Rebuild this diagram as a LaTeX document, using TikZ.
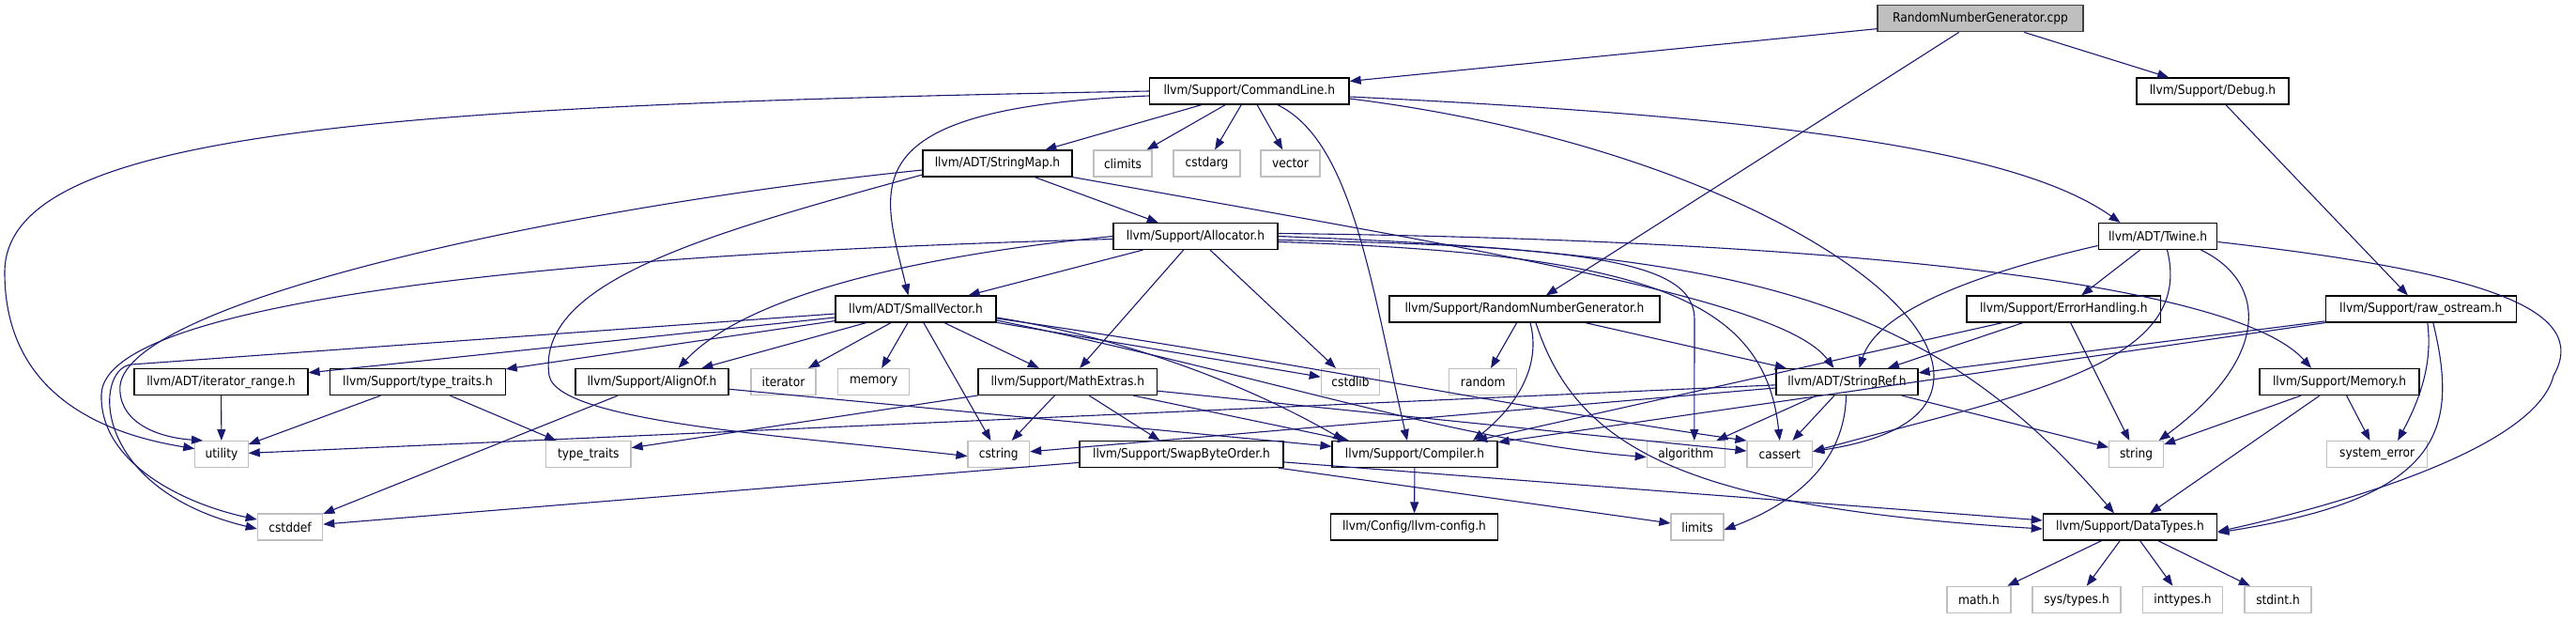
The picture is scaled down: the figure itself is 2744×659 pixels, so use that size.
\documentclass[tikz,border=0pt]{standalone}
\usepackage{fontspec}
\setmainfont{DejaVu Sans Condensed}
\usetikzlibrary{arrows.meta}

\definecolor{edgeblue}{HTML}{191970}
\definecolor{sysgray}{HTML}{BFBFBF}
\definecolor{rootline}{HTML}{404040}

\begin{document}
\begin{tikzpicture}[x=1pt, y=-1pt,
  box/.style={rectangle, minimum height=28, inner xsep=2, inner ysep=0, line width=1.2pt,
    font=\fontsize{13.6}{15}\selectfont},
  inc/.style={box, draw=black, fill=white},
  sys/.style={box, draw=sysgray, fill=white},
  root/.style={box, draw=rootline, fill=sysgray},
  dep/.style={edgeblue, line width=1.1pt, -{Triangle[length=12pt,width=9pt]}}]

\useasboundingbox (0,0) rectangle (2744,659);

% Row 0 and 1
\node[root, minimum width=219] (cpp) at (2109.5,19.8) {RandomNumberGenerator.cpp};
\node[inc, minimum width=212.5] (CommandLine) at (1330.8,97) {llvm/Support/CommandLine.h};
\node[inc, minimum width=162] (Debug) at (2357,97) {llvm/Support/Debug.h};

% Row 2 and 3
\node[inc, minimum width=159] (StringMap) at (1062.5,174) {llvm/ADT/StringMap.h};
\node[sys, minimum width=62] (climits) at (1196,174) {climits};
\node[sys, minimum width=71] (cstdarg) at (1285.5,174) {cstdarg};
\node[sys, minimum width=63] (vector) at (1374.5,174) {vector};
\node[inc, minimum width=175] (Allocator) at (1273.5,251.5) {llvm/Support/Allocator.h};
\node[inc, minimum width=126.5] (Twine) at (2298.5,251.5) {llvm/ADT/Twine.h};

% Row 4
\node[inc, minimum width=171] (SmallVector) at (975.5,329) {llvm/ADT/SmallVector.h};
\node[inc, minimum width=288] (RNGh) at (1624,329) {llvm/Support/RandomNumberGenerator.h};
\node[inc, minimum width=206.5] (ErrorHandling) at (2198.3,329) {llvm/Support/ErrorHandling.h};
\node[inc, minimum width=203] (rawostream) at (2578.8,329) {llvm/Support/raw\_ostream.h};

% Row 5
\node[inc, minimum width=185] (iterrange) at (235.5,406.5) {llvm/ADT/iterator\_range.h};
\node[inc, minimum width=186.3] (typetraitsh) at (445,406.5) {llvm/Support/type\_traits.h};
\node[inc, minimum width=163] (AlignOf) at (694.5,406.5) {llvm/Support/AlignOf.h};
\node[sys, minimum width=69] (iterator) at (834.5,406.5) {iterator};
\node[sys, minimum width=76] (memory) at (930.7,406.5) {memory};
\node[inc, minimum width=190.5] (MathExtras) at (1137.3,406.5) {llvm/Support/MathExtras.h};
\node[sys, minimum width=62.4] (cstdlib) at (1438.5,406.5) {cstdlib};
\node[sys, minimum width=72] (random) at (1579.7,406.5) {random};
\node[inc, minimum width=151] (StringRef) at (1967.5,406.5) {llvm/ADT/StringRef.h};
\node[inc, minimum width=170] (Memory) at (2492,406.5) {llvm/Support/Memory.h};

% Row 6
\node[sys, minimum width=56.3] (utility) at (236,483.6) {utility};
\node[sys, minimum width=90.5] (typetraits) at (626.8,483.6) {type\_traits};
\node[sys, minimum width=65.5] (cstring) at (1063.8,483.6) {cstring};
\node[inc, minimum width=217] (SwapByteOrder) at (1258.5,483.6) {llvm/Support/SwapByteOrder.h};
\node[inc, minimum width=176] (Compiler) at (1507,483.6) {llvm/Support/Compiler.h};
\node[sys, minimum width=83] (algorithm) at (1795.8,483.6) {algorithm};
\node[sys, minimum width=69.5] (cassert) at (1895.8,483.6) {cassert};
\node[sys, minimum width=57.8] (string) at (2275.6,483.6) {string};
\node[sys, minimum width=107.2] (systemerror) at (2532.1,483.6) {system\_error};

% Row 7 and 8
\node[sys, minimum width=69.4] (cstddef) at (309,561) {cstddef};
\node[inc, minimum width=177.8] (llvmconfig) at (1506.5,561) {llvm/Config/llvm-config.h};
\node[sys, minimum width=56] (limits) at (1808,561) {limits};
\node[inc, minimum width=185.4] (DataTypes) at (2269,561) {llvm/Support/DataTypes.h};
\node[sys, minimum width=68] (mathh) at (2108,638.3) {math.h};
\node[sys, minimum width=94] (systypes) at (2212,638.3) {sys/types.h};
\node[sys, minimum width=85.5] (inttypes) at (2325,638.3) {inttypes.h};
\node[sys, minimum width=71] (stdint) at (2426.5,638.3) {stdint.h};

% Straight includes
\foreach \from/\to in {cpp/CommandLine, cpp/RNGh, cpp/Debug, Debug/rawostream,
    CommandLine/StringMap, CommandLine/climits, CommandLine/cstdarg, CommandLine/vector,
    StringMap/Allocator, Allocator/SmallVector, Allocator/MathExtras, Allocator/cstdlib,
    Twine/ErrorHandling, SmallVector/iterrange, SmallVector/typetraitsh, SmallVector/AlignOf,
    SmallVector/iterator, SmallVector/memory, SmallVector/cstring, SmallVector/MathExtras,
    SmallVector/cstdlib, RNGh/random, RNGh/StringRef, ErrorHandling/StringRef,
    ErrorHandling/Compiler, ErrorHandling/string, rawostream/StringRef, rawostream/Compiler,
    iterrange/utility, typetraitsh/utility, typetraitsh/typetraits, AlignOf/cstddef,
    AlignOf/Compiler, MathExtras/typetraits, MathExtras/cstring, MathExtras/SwapByteOrder,
    MathExtras/Compiler, MathExtras/cassert, StringRef/algorithm, StringRef/cassert,
    StringRef/string, StringRef/utility, StringRef/cstring, Memory/DataTypes, Memory/string,
    Memory/systemerror, SwapByteOrder/cstddef, SwapByteOrder/DataTypes, SwapByteOrder/limits,
    Compiler/llvmconfig, DataTypes/mathh, DataTypes/systypes, DataTypes/inttypes, DataTypes/stdint}
  \draw[dep] (\from) -- (\to);

% CommandLine.h
\draw[dep] (CommandLine.west) .. controls (400,112) and (5,140) .. (5,290)
  .. controls (5,420) and (110,462) .. ([yshift=6]utility.west);
\draw[dep] ([yshift=-5]CommandLine.west) .. controls (900,115) and (940,200) .. ([xshift=-8]SmallVector.north);
\draw[dep] ([xshift=30]CommandLine.south) .. controls (1440,150) and (1460,300) .. ([xshift=-8]Compiler.north);
\draw[dep] ([yshift=-8]CommandLine.east) .. controls (1800,150) and (2060,300) .. (2060,400)
  .. controls (2060,450) and (2000,470) .. ([yshift=3]cassert.east);
\draw[dep] ([yshift=-6]CommandLine.east) .. controls (1900,125) and (2150,160) .. ([xshift=-40]Twine.north);

% StringMap.h
\draw[dep] ([yshift=-7]StringMap.west) .. controls (600,220) and (140,320) .. (128,410)
  .. controls (125,445) and (160,465) .. ([xshift=-20]utility.north);
\draw[dep] (StringMap.south east) .. controls (1600,270) and (1900,320) .. ([xshift=-14]StringRef.north);
\draw[dep] ([yshift=-12]StringMap.west) .. controls (750,250) and (570,300) .. (585,400)
  .. controls (595,450) and (850,465) .. ([yshift=-2]cstring.west);

% Allocator.h
\draw[dep] (Allocator.west) .. controls (950,275) and (790,320) .. ([xshift=28]AlignOf.north);
\draw[dep] ([yshift=-3]Allocator.west) .. controls (600,270) and (110,320) .. (108,420)
  .. controls (106,490) and (190,535) .. ([yshift=8]cstddef.west);
\draw[dep] ([yshift=3]Allocator.east) .. controls (1950,255) and (2380,300) .. ([xshift=-30]Memory.north);
\draw[dep] (Allocator.east) .. controls (1850,270) and (2050,310) .. ([xshift=-17]DataTypes.north);
\draw[dep] ([yshift=-4]Allocator.east) .. controls (1700,262) and (1805,280) .. (1805,340)
  -- ([xshift=9]algorithm.north);
\draw[dep] ([yshift=-6]Allocator.east) .. controls (1760,270) and (1880,320) .. (cassert.north);

% Twine.h
\draw[dep] ([yshift=-10]Twine.west) .. controls (2110,290) and (2000,330) .. ([xshift=13]StringRef.north);
\draw[dep] ([xshift=10]Twine.south) .. controls (2340,390) and (2150,420) .. ([yshift=3]cassert.east);
\draw[dep] ([xshift=46]Twine.south) .. controls (2415,300) and (2420,380) .. ([xshift=24]string.north);
\draw[dep] ([yshift=-6]Twine.east) .. controls (2650,290) and (2760,330) .. (2720,400)
  .. controls (2700,480) and (2480,540) .. ([yshift=-5]DataTypes.east);

% SmallVector.h
\draw[dep] ([yshift=-5]SmallVector.west) -- (140,388) .. controls (100,392) and (95,520) .. ([yshift=-2]cstddef.west);
\draw[dep] ([yshift=-9]SmallVector.east) .. controls (1200,360) and (1330,410) .. ([xshift=-75]Compiler.north);
\draw[dep] ([yshift=-12]SmallVector.east) .. controls (1350,400) and (1550,470) .. ([yshift=-3]algorithm.west);
\draw[dep] ([yshift=-10]SmallVector.east) .. controls (1350,380) and (1650,440) .. (cassert.north west);

% RandomNumberGenerator.h, raw_ostream.h, StringRef.h
\draw[dep] ([xshift=6]RNGh.south) .. controls (1645,400) and (1600,445) .. ([xshift=62]Compiler.north);
\draw[dep] ([xshift=12]RNGh.south) .. controls (1680,480) and (1800,540) .. ([yshift=-2]DataTypes.west);
\draw[dep] ([xshift=7]rawostream.south) .. controls (2592,390) and (2575,430) .. ([xshift=22]systemerror.north);
\draw[dep] ([xshift=13]rawostream.south) .. controls (2620,460) and (2600,530) .. ([yshift=-6]DataTypes.east);
\draw[dep] ([xshift=-1]StringRef.south) .. controls (1965,500) and (1900,540) .. ([yshift=-3]limits.east);

\end{tikzpicture}
\end{document}
